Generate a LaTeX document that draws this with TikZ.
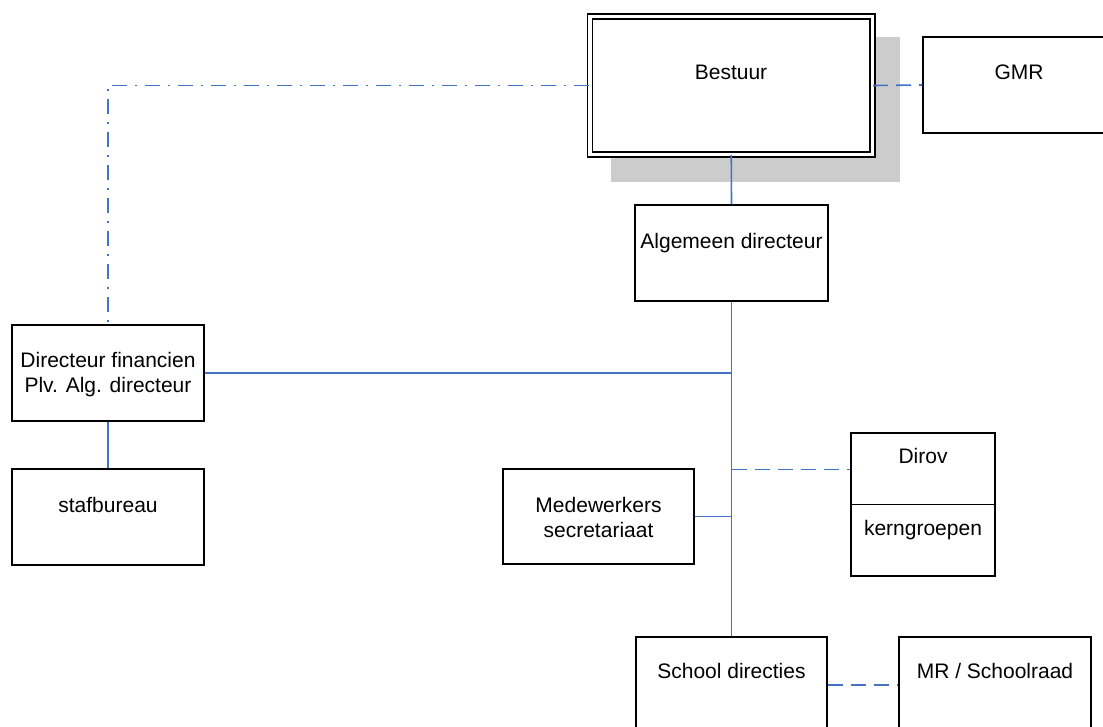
\documentclass[tikz,border=0pt]{standalone}
\usepackage{fontspec}
\setmainfont{Liberation Sans}

\definecolor{lineblue}{RGB}{68,114,196}
\definecolor{shadowgray}{RGB}{204,204,204}

\begin{document}
\begin{tikzpicture}[x=1pt,y=-1pt]
		\tikzstyle {unit} = [draw, line width=1.3pt, fill=white, inner sep=0pt, minimum width=193pt, minimum height=96pt]
		\tikzstyle {unit text} = [anchor=base, inner sep=0pt, align=center, font=\fontsize{21}{25}\selectfont]
		\tikzstyle {tie} = [draw=lineblue, line width=1.6pt]
		\tikzstyle {tie dashed} = [tie, dash pattern=on 15pt off 8pt]
		\tikzstyle {tie dashdot} = [tie, dash pattern=on 15pt off 8pt on 2pt off 8pt]

		\useasboundingbox (0,0) rectangle (1103,726);

		\fill[shadowgray] (611,37) rectangle (900,182);
		\node[unit, double, double distance=3.7pt, minimum width=282.5pt, minimum height=138pt] (bestuur) at (731.25,85.5) {};
		\node[unit] (gmr) at (1019.5,85) {};
		\node[unit] (alg) at (731.5,253) {};
		\node[unit, minimum width=192pt] (dirfin) at (108,373) {};
		\node[unit, minimum width=192pt] (staf) at (108,517) {};
		\node[unit, minimum width=191pt, minimum height=95pt] (medew) at (598.5,516.5) {};
		\node[unit, minimum width=144pt, minimum height=143pt] (dirov) at (923,504.5) {};
		\node[unit, minimum width=191pt] (school) at (731.5,685) {};
		\node[unit, minimum width=192pt] (mr) at (995,685) {};

		\draw[line width=1.3pt] (dirov.west) -- (dirov.east);

		\node[unit text] (bestuurText) at (731,79) {Bestuur};
		\node[unit text] (gmrText) at (1019,79) {GMR};
		\node[unit text] (algText) at (731.5,248) {Algemeen directeur};
		\node[unit text] (dirfinText) at (108,392) {Directeur financien\\Plv. Alg. directeur};
		\node[unit text] (stafText) at (108,512) {stafbureau};
		\node[unit text] (medewText) at (598.5,537) {Medewerkers\\secretariaat};
		\node[unit text] (dirovText) at (923,463) {Dirov};
		\node[unit text] (kernText) at (923,535) {kerngroepen};
		\node[unit text] (schoolText) at (731.5,678) {School directies};
		\node[unit text] (mrText) at (995,678) {MR / Schoolraad};

		\coordinate (dirovLink) at ([yshift=35pt]dirov.west);

		\draw[tie dashdot] (bestuur.west) -| (dirfin.north);
		\draw[tie dashed] (bestuur.east) -- (gmr.west);
		\draw[tie] (bestuur.south) -- (alg.north);
		\draw[tie] (alg.south) -- (school.north);
		\draw[tie] (dirfin.east) -- (dirfin.east -| alg.south);
		\draw[tie] (dirfin.south) -- (staf.north);
		\draw[tie] (medew.east) -- (medew.east -| alg.south);
		\draw[tie dashed] (alg.south |- dirovLink) -- (dirovLink);
		\draw[tie dashed] (school.east) -- (mr.west);
	\end{tikzpicture}
\end{document}
